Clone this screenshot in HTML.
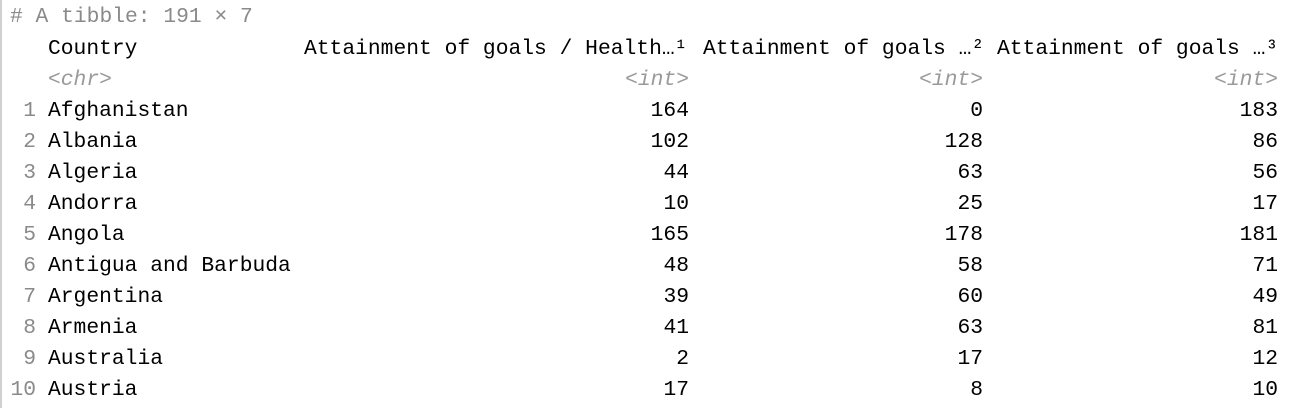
<!DOCTYPE html>
<html><head><meta charset="utf-8"><style>
body{margin:0;width:1292px;height:408px;background:#fff;overflow:hidden;position:relative;font-family:"Liberation Mono","DejaVu Sans Mono",monospace;font-size:21.3px;color:#000}
.bar{position:absolute;left:0;top:0;width:2px;height:408px;background:#d0d0d0}
.r{position:absolute;left:0;width:1292px;height:31px;line-height:31px;white-space:pre}
.c{position:absolute;top:0}
.g{color:#8a8a8a}
.i{font-style:italic;color:#9a9a9a}
.rt{text-align:right}
</style></head><body>
<div class="bar"></div>
<div class="r" style="top:2px"><span class="c g" style="left:10px"># A tibble: 191 × 7</span></div>
<div class="r" style="top:34px">
<span class="c" style="left:48px">Country</span>
<span class="c" style="left:304px">Attainment of goals / Health…¹</span>
<span class="c" style="left:703px">Attainment of goals …²</span>
<span class="c" style="left:997px">Attainment of goals …³</span>
</div>
<div class="r" style="top:65px">
<span class="c i" style="left:48px">&lt;chr&gt;</span>
<span class="c i rt" style="right:603px">&lt;int&gt;</span>
<span class="c i rt" style="right:309px">&lt;int&gt;</span>
<span class="c i rt" style="right:14px">&lt;int&gt;</span>
</div>
<div id="rows"></div>
<script>
const countries=["Afghanistan","Albania","Algeria","Andorra","Angola","Antigua and Barbuda","Argentina","Armenia","Australia","Austria"];
const v1=[164,102,44,10,165,48,39,41,2,17];
const v2=[0,128,63,25,178,58,60,63,17,8];
const v3=[183,86,56,17,181,71,49,81,12,10];
const host=document.getElementById('rows');
countries.forEach((c,k)=>{
  const row=document.createElement('div');
  row.className='r';row.style.top=(96+k*31)+'px';
  
  
  const n=document.createElement('span');n.className='c g rt';n.style.right=(1292-36)+'px';n.textContent=String(k+1);
  
  
  const nm=document.createElement('span');nm.className='c';nm.style.left='48px';nm.textContent=c;
  
  
  row.appendChild(n);row.appendChild(nm);
  [[v1,603],[v2,309],[v3,14]].forEach(([arr,r])=>{
    const s=document.createElement('span');s.className='c rt';s.style.right=r+'px';s.textContent=String(arr[k]);
    
    
    row.appendChild(s);
  });
  host.appendChild(row);
});
</script>
</body></html>
